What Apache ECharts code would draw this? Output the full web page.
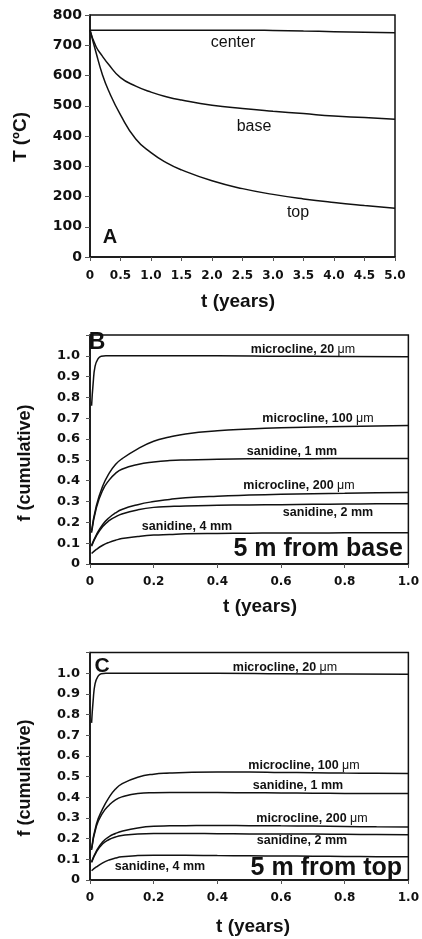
<!DOCTYPE html>
<html>
<head>
<meta charset="utf-8">
<script src="https://cdn.jsdelivr.net/npm/echarts@6/dist/echarts.min.js"></script>
<style>
  html, body { margin: 0; padding: 0; background: #fff; }
  #chart { width: 422px; height: 939px; }
</style>
</head>
<body>
<div id="chart"></div>
<script>
// panel A: temperature vs time
var tA = [0, 0.1, 0.2, 0.3, 0.5, 0.75, 1.0, 1.25, 1.5, 2.0, 2.5, 3.0, 3.5, 4.0, 4.5, 5.0];
var centerA = [750, 750, 750, 750, 750, 750, 750, 750, 750, 750, 750, 749, 747, 745, 743, 741];
var baseA = [750, 695, 665, 638, 593, 565, 545, 530, 519, 502, 491, 482, 474, 466, 461, 455];
var topA = [750, 675, 605, 552, 470, 390, 345, 312, 288, 252, 226, 207, 192, 180, 170, 161];

// panels B and C: cumulative fraction
var tFast = [0.005, 0.01, 0.016, 0.025, 0.035, 0.05, 0.1, 0.2, 0.4, 0.6, 0.8, 1.0];
var tF = [0.005, 0.02, 0.04, 0.06, 0.08, 0.1, 0.15, 0.2, 0.25, 0.3, 0.4, 0.5, 0.6, 0.7, 0.8, 0.9, 1.0];

var mc20B = [0.76, 0.87, 0.95, 0.985, 0.998, 1.0, 1.0, 1.0, 1.0, 0.998, 0.997, 0.996];
var mc100B = [0.16, 0.28, 0.375, 0.435, 0.478, 0.505, 0.553, 0.59, 0.61, 0.625, 0.64, 0.648, 0.654, 0.658, 0.661, 0.663, 0.665];
var san1B = [0.15, 0.27, 0.355, 0.403, 0.435, 0.455, 0.478, 0.49, 0.497, 0.5, 0.503, 0.505, 0.506, 0.506, 0.507, 0.507, 0.507];
var mc200B = [0.09, 0.14, 0.19, 0.222, 0.245, 0.262, 0.285, 0.3, 0.31, 0.318, 0.326, 0.331, 0.335, 0.338, 0.34, 0.342, 0.343];
var san2B = [0.085, 0.135, 0.18, 0.208, 0.226, 0.24, 0.26, 0.272, 0.276, 0.279, 0.282, 0.284, 0.285, 0.287, 0.288, 0.289, 0.29];
var san4B = [0.05, 0.07, 0.09, 0.104, 0.114, 0.122, 0.132, 0.139, 0.142, 0.145, 0.147, 0.148, 0.149, 0.149, 0.15, 0.15, 0.15];

var mc20C = [0.76, 0.87, 0.95, 0.985, 0.998, 1.0, 1.0, 1.0, 1.0, 0.998, 0.996, 0.995];
var mc100C = [0.153, 0.27, 0.345, 0.4, 0.44, 0.465, 0.497, 0.512, 0.517, 0.52, 0.522, 0.522, 0.52, 0.519, 0.517, 0.516, 0.515];
var san1C = [0.145, 0.26, 0.325, 0.362, 0.388, 0.402, 0.418, 0.422, 0.423, 0.423, 0.423, 0.422, 0.421, 0.42, 0.419, 0.418, 0.418];
var mc200C = [0.088, 0.14, 0.185, 0.21, 0.225, 0.236, 0.252, 0.26, 0.262, 0.263, 0.264, 0.263, 0.262, 0.261, 0.259, 0.257, 0.256];
var san2C = [0.085, 0.135, 0.175, 0.196, 0.208, 0.215, 0.223, 0.225, 0.225, 0.225, 0.224, 0.223, 0.222, 0.222, 0.221, 0.22, 0.219];
var san4C = [0.045, 0.063, 0.083, 0.097, 0.106, 0.112, 0.118, 0.12, 0.12, 0.12, 0.118, 0.117, 0.116, 0.115, 0.114, 0.113, 0.112];

var ink = '#111';
var tickFont = 'DejaVu Sans';
var textFont = 'Liberation Sans, Arial, sans-serif';

function pairs(xs, ys) {
  return xs.map(function (x, i) { return [x, ys[i]]; });
}
function fmt1(v) {
  return v === 0 ? '0' : v.toFixed(1);
}
function curve(name, idx, xs, ys) {
  return {
    name: name,
    type: 'line',
    xAxisIndex: idx,
    yAxisIndex: idx,
    data: pairs(xs, ys),
    showSymbol: false,
    smooth: 0.5,
    lineStyle: { color: ink, width: 1.5 },
    silent: true
  };
}
function xAxisOf(idx, max, interval, margin) {
  return {
    type: 'value', gridIndex: idx, min: 0, max: max, interval: interval,
    axisLine: { lineStyle: { color: ink, width: 1.5 } },
    axisTick: { show: true, length: 4, lineStyle: { color: '#555', width: 1 } },
    splitLine: { show: false },
    axisLabel: { color: ink, fontFamily: tickFont, fontWeight: 'bold', fontSize: 12, margin: margin, formatter: fmt1 }
  };
}
function fracAxis(idx) {
  return {
    type: 'value', gridIndex: idx, min: 0, max: 1.1, interval: 0.1,
    axisLine: { lineStyle: { color: ink, width: 1.5 } },
    axisTick: { show: true, length: 4, lineStyle: { color: '#555', width: 1 } },
    splitLine: { show: false },
    axisLabel: {
      color: ink, fontFamily: tickFont, fontWeight: 'bold', fontSize: 13, margin: 10,
      formatter: function (v) { return v > 1.05 ? '' : fmt1(v); }
    }
  };
}
function txt(x, y, s, size, weight, align, rot) {
  return {
    type: 'text', x: x, y: y, rotation: rot || 0, silent: true,
    style: {
      text: s, fill: ink, font: (weight || 'normal') + ' ' + size + 'px ' + textFont,
      textAlign: align || 'center', textVerticalAlign: 'middle',
      rich: { u: { fontWeight: 'normal', fontSize: size, fontFamily: textFont, fill: ink } }
    }
  };
}

var chart = echarts.init(document.getElementById('chart'), null, { renderer: 'canvas' });

var gridStyle = { show: true, borderColor: ink, borderWidth: 1.5, backgroundColor: 'transparent' };

chart.setOption({
  animation: false,
  backgroundColor: '#fff',
  grid: [
    Object.assign({ left: 90, top: 15, width: 305, height: 242 }, gridStyle),
    Object.assign({ left: 90, top: 335, width: 319, height: 229 }, gridStyle),
    Object.assign({ left: 90, top: 652.6, width: 319, height: 227.4 }, gridStyle)
  ],
  xAxis: [
    xAxisOf(0, 5, 0.5, 13),
    xAxisOf(1, 1, 0.2, 12),
    xAxisOf(2, 1, 0.2, 12)
  ],
  yAxis: [
    {
      type: 'value', gridIndex: 0, min: 0, max: 800, interval: 100,
      axisLine: { lineStyle: { color: ink, width: 1.5 } },
      axisTick: { show: true, length: 5, lineStyle: { color: '#555', width: 1 } },
      splitLine: { show: false },
      axisLabel: { color: ink, fontFamily: tickFont, fontWeight: 'bold', fontSize: 14, margin: 8 }
    },
    fracAxis(1),
    fracAxis(2)
  ],
  series: [
    curve('center', 0, tA, centerA),
    curve('base', 0, tA, baseA),
    curve('top', 0, tA, topA),

    curve('microcline, 20 μm', 1, tFast, mc20B),
    curve('microcline, 100 μm', 1, tF, mc100B),
    curve('sanidine, 1 mm', 1, tF, san1B),
    curve('microcline, 200 μm', 1, tF, mc200B),
    curve('sanidine, 2 mm', 1, tF, san2B),
    curve('sanidine, 4 mm', 1, tF, san4B),

    curve('microcline, 20 μm', 2, tFast, mc20C),
    curve('microcline, 100 μm', 2, tF, mc100C),
    curve('sanidine, 1 mm', 2, tF, san1C),
    curve('microcline, 200 μm', 2, tF, mc200C),
    curve('sanidine, 2 mm', 2, tF, san2C),
    curve('sanidine, 4 mm', 2, tF, san4C)
  ],
  graphic: [
    // panel A
    txt(21, 137, 'T (ºC)', 19, 'bold', 'center', Math.PI / 2),
    txt(238, 302, 't (years)', 19, 'bold'),
    txt(110, 237, 'A', 20, 'bold'),
    txt(233, 43, 'center', 16),
    txt(254, 127, 'base', 16),
    txt(298, 213, 'top', 16),

    // panel B
    txt(25, 463, 'f (cumulative)', 18, 'bold', 'center', Math.PI / 2),
    txt(260, 607, 't (years)', 19, 'bold'),
    txt(97, 343, 'B', 23, 'bold'),
    txt(303, 350, 'microcline, 20 {u|μm}', 12.5, 'bold'),
    txt(318, 419, 'microcline, 100 {u|μm}', 12.5, 'bold'),
    txt(292, 452, 'sanidine, 1 mm', 12.5, 'bold'),
    txt(299, 486, 'microcline, 200 {u|μm}', 12.5, 'bold'),
    txt(328, 513, 'sanidine, 2 mm', 12.5, 'bold'),
    txt(187, 527, 'sanidine, 4 mm', 12.5, 'bold'),
    txt(403, 549, '5 m from base', 25, 'bold', 'right'),

    // panel C
    txt(25, 778, 'f (cumulative)', 18, 'bold', 'center', Math.PI / 2),
    txt(253, 927, 't (years)', 19, 'bold'),
    txt(102, 666, 'C', 21, 'bold'),
    txt(285, 668, 'microcline, 20 {u|μm}', 12.5, 'bold'),
    txt(304, 766, 'microcline, 100 {u|μm}', 12.5, 'bold'),
    txt(298, 786, 'sanidine, 1 mm', 12.5, 'bold'),
    txt(312, 819, 'microcline, 200 {u|μm}', 12.5, 'bold'),
    txt(302, 841, 'sanidine, 2 mm', 12.5, 'bold'),
    txt(160, 867, 'sanidine, 4 mm', 12.5, 'bold'),
    txt(402, 868, '5 m from top', 25, 'bold', 'right')
  ]
});
</script>
</body>
</html>
